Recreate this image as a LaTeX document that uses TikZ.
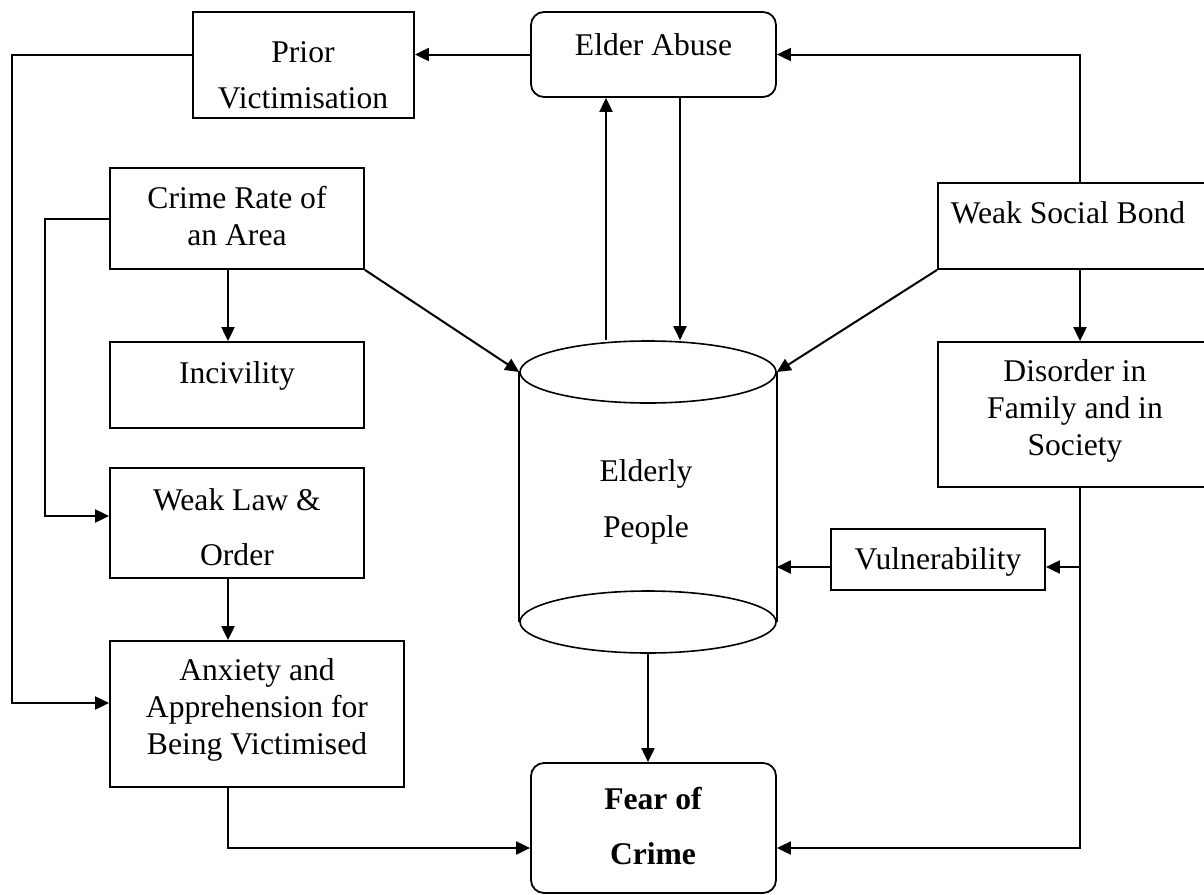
\documentclass[tikz,border=0pt]{standalone}
\usepackage{fontspec}
\setmainfont{Liberation Serif}
\usetikzlibrary{arrows.meta,shapes.geometric}

\begin{document}
\begin{tikzpicture}[x=0.5pt,y=-0.5pt,
    font=\fontsize{15.8pt}{18.5pt}\selectfont,
    box/.style={draw,line width=0.9pt,inner sep=0pt},
    rbox/.style={box,rounded corners=6.5pt},
    cyl/.style={ellipse,draw,line width=0.8pt,inner sep=0pt,minimum width=128pt,minimum height=31pt},
    txt/.style={align=center,inner sep=0pt,anchor=base},
    arr/.style={line width=1pt,-{Triangle[length=7pt,width=6.5pt]}}]
  \useasboundingbox (0,0) rectangle (1204,894);

  % boxes
  \node[box,minimum width=110.5pt,minimum height=53pt] (prior) at (303.5,65) {};
  \node[rbox,minimum width=122.5pt,minimum height=42.5pt] (abuse) at (653.5,54.5) {};
  \node[box,minimum width=127pt,minimum height=50.5pt] (crime) at (237,218.5) {};
  \node[box,minimum width=134pt,minimum height=43pt] (wsb) at (1072,226) {};
  \node[box,minimum width=127pt,minimum height=43pt] (incivility) at (237,385) {};
  \node[box,minimum width=134pt,minimum height=72.5pt] (disorder) at (1072,414.5) {};
  \node[box,minimum width=127pt,minimum height=55pt] (law) at (237,523) {};
  \node[box,minimum width=107pt,minimum height=30.5pt] (vuln) at (938,559.5) {};
  \node[box,minimum width=147pt,minimum height=73pt] (anx) at (257,714) {};
  \node[rbox,minimum width=122.5pt,minimum height=65pt] (fear) at (653.5,828) {};

  % elderly people cylinder
  \node[cyl] (cyltop) at (648,372) {};
  \node[cyl] (cylbot) at (648,622) {};
  \draw[line width=0.8pt] (cyltop.west) -- (cylbot.west) (cyltop.east) -- (cylbot.east);

  % texts (base = last line)
  \node[txt] (prior-t) at (303,108) {Prior\\[4.5pt]Victimisation};
  \node[txt] (abuse-t) at (653.5,55) {Elder Abuse};
  \node[txt] (crime-t) at (237,245) {Crime Rate of\\an Area};
  \node[txt] (wsb-t) at (1068,223) {Weak Social Bond};
  \node[txt] (incivility-t) at (237,383) {Incivility};
  \node[txt] (disorder-t) at (1075,455) {Disorder in\\Family and in\\Society};
  \node[txt] (law-t) at (237,565) {Weak Law \&\\[9pt]Order};
  \node[txt] (vuln-t) at (938,569) {Vulnerability};
  \node[txt] (anx-t) at (257,754) {Anxiety and\\Apprehension for\\Being Victimised};
  \node[txt] (elder) at (646,537) {Elderly\\[9.5pt]People};
  \node[txt,font=\fontsize{15.8pt}{18.5pt}\selectfont\bfseries] (fear-t) at (653,864) {Fear of\\[9pt]Crime};

  % helper points
  \coordinate (lft) at (12,0);
  \coordinate (lft2) at (45,0);
  \coordinate (col) at (228,0);
  \coordinate (rcol) at (1080,0);
  \coordinate (upx) at (606,0);
  \coordinate (dnx) at (680,0);
  \coordinate (anx-in) at ([yshift=5.5pt]anx.west);
  \coordinate (law-in) at ([yshift=3.5pt]law.west);
  \coordinate (vin) at ([yshift=-3.75pt]vuln.west);
  \coordinate (vout) at ([yshift=-3.75pt]vuln.east);
  \coordinate (fear-l) at ([yshift=-10pt]fear.west);
  \coordinate (fear-r) at ([yshift=-10pt]fear.east);

  % connectors
  \draw[arr] (abuse.west) -- (abuse.west -| prior.east);
  \draw[arr] (prior.west |- abuse.west) -- (lft |- abuse.west) |- (anx-in);
  \draw[arr] (crime.west) -- (lft2 |- crime.west) |- (law-in);
  \draw[arr] (crime.south -| col) -- (incivility.north -| col);
  \draw[arr] (law.south -| col) -- (anx.north -| col);
  \draw[arr] (crime.south east) -- (cyltop.west);
  \draw[arr] (wsb.south west) -- (cyltop.east);
  \draw[arr] (wsb.north -| rcol) |- (abuse.east);
  \draw[arr] (wsb.south -| rcol) -- (disorder.north -| rcol);
  \draw[arr] (cyltop.north -| upx) -- (abuse.south -| upx);
  \draw[arr] (abuse.south -| dnx) -- (cyltop.north -| dnx);
  \draw[arr] (vin) -- (cyltop.east |- vin);
  \draw[arr] (rcol |- vout) -- (vout);
  \draw[arr] (disorder.south -| rcol) |- (fear-r);
  \draw[arr] (cylbot.south) -- (cylbot.south |- fear.north);
  \draw[arr] (anx.south -| col) |- (fear-l);
\end{tikzpicture}
\end{document}
